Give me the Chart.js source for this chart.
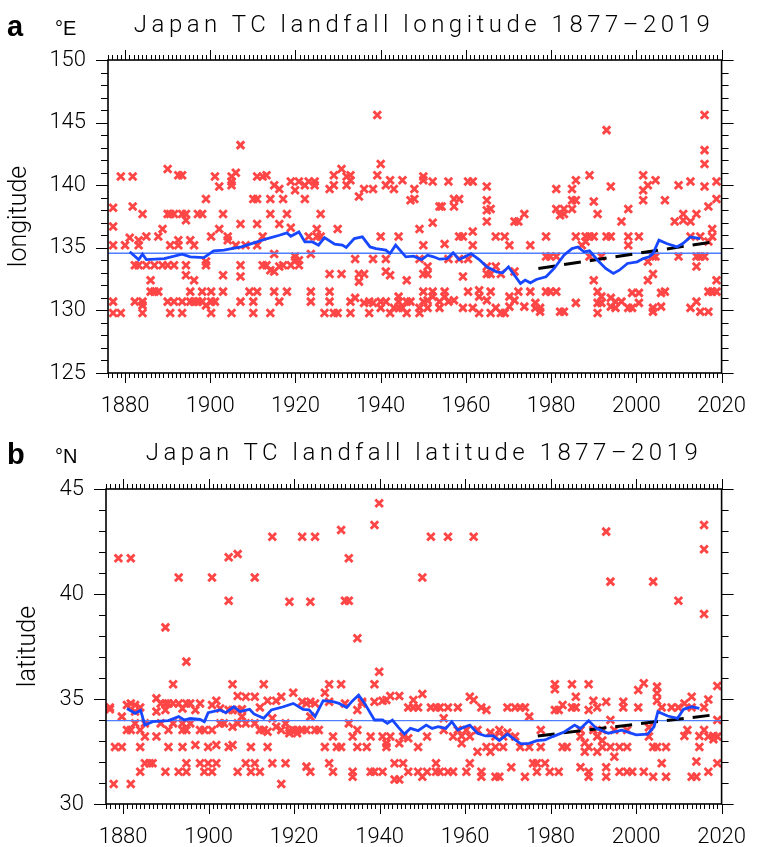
<!DOCTYPE html>
<html><head><meta charset="utf-8">
<script src="https://cdn.jsdelivr.net/npm/chart.js@4.4.1/dist/chart.umd.min.js"></script>
<style>
html,body{margin:0;padding:0;background:#fff;width:766px;height:847px;overflow:hidden;position:relative;}
canvas{display:block;}
.wrap{position:absolute;left:0;width:766px;}
.lbl{position:absolute;line-height:1;white-space:nowrap;color:#000;}
.letter{font-family:"Liberation Sans",Arial,sans-serif;font-weight:bold;font-size:29px;left:7px;}
.unit{font-family:"Liberation Sans",Arial,sans-serif;font-size:20px;left:55px;}
.title{font-family:Roboto,"Liberation Sans",sans-serif;font-weight:300;font-size:24px;left:0;width:848px;text-align:center;letter-spacing:4.5px;}
</style></head><body>
<div class="wrap" style="top:0;height:420px"><canvas id="cA" width="766" height="420"></canvas></div>
<div class="wrap" style="top:420px;height:427px"><canvas id="cB" width="766" height="427"></canvas></div>
<div class="lbl letter" style="top:12px">a</div>
<div class="lbl unit" style="top:18px">°E</div>
<div class="lbl title" style="top:12px">Japan TC landfall longitude 1877–2019</div>
<div class="lbl letter" style="top:440px">b</div>
<div class="lbl unit" style="top:446px">°N</div>
<div class="lbl title" style="top:440px">Japan TC landfall latitude 1877–2019</div>
<script>
// ---------------- DATA ----------------
const xTickLabels = [1880, 1900, 1920, 1940, 1960, 1980, 2000, 2020];
const lonTickLabels = [125, 130, 135, 140, 145, 150];
const latTickLabels = [30, 35, 40, 45];

// Panel a: landfall longitude (°E) by year
const lonYears = [1877.2,1879.0,1880.0,1881.1,1881.8,1882.3,1883.2,1884.1,1885.0,1886.0,1886.9,1887.8,1888.8,1890.0,1890.6,1891.5,1892.5,1893.4,1894.3,1895.3,1896.2,1897.1,1898.1,1899.0,1900.2,1901.1,1902.1,1903.0,1904.1,1905.0,1906.0,1907.1,1908.3,1909.2,1910.1,1911.0,1912.3,1913.2,1914.1,1915.0,1916.2,1917.1,1918.0,1918.9,1919.9,1920.8,1922.2,1923.1,1923.6,1924.5,1925.0,1925.9,1926.8,1928.0,1929.0,1929.9,1930.8,1932.0,1932.9,1934.0,1934.9,1936.1,1937.3,1938.2,1939.2,1940.0,1941.2,1942.2,1943.1,1944.2,1945.1,1946.1,1947.0,1947.9,1949.1,1950.0,1951.0,1952.2,1953.8,1954.3,1955.0,1955.9,1957.2,1958.4,1959.3,1960.5,1961.6,1963.1,1964.9,1965.8,1967.0,1968.2,1969.1,1970.2,1971.4,1972.3,1973.7,1975.1,1976.3,1977.4,1978.8,1979.8,1981.2,1982.1,1983.0,1984.9,1985.8,1987.2,1988.1,1989.0,1990.0,1990.9,1991.8,1993.0,1994.0,1995.1,1996.5,1998.1,1999.0,2000.6,2001.6,2002.7,2003.9,2004.5,2005.8,2006.7,2009.0,2009.9,2011.0,2012.7,2014.1,2015.0,2016.0,2016.9,2017.8,2018.8];
const lonGroups = [
[138.2,136.7,135.2,130.7,129.8],[140.7,129.8],[135.2],[135.8],[140.7,138.3],[133.6,130.7],[135.2,135.6,133.6],[137.7,130.7,130.4,129.8],
[135.9,133.6],[132.4,131.5],[133.6,131.5],[135.9,131.5],[136.5,133.6],[141.3,137.7,133.6,130.7],[137.7,135.2,129.8],[137.7,133.6,130.7],
[140.8,135.6,135.2],[140.8,137.7,130.7,129.8],[137.7,137.2,133.6,132.8],[135.6,131.5,130.7],[135.2,132.4,130.7],[137.7,130.7],[137.7,131.5,130.7],
[138.9,133.6,133.9,130.4],[135.9,131.5,130.7,129.8],[140.7,130.7],[139.9,136.5],[137.7,132.8,131.5],[135.9,135.6],[140.7,140.3,140.0,129.8],
[141.0,135.2],[143.2,136.9,133.6,132.7,130.7],[135.2],[131.5],[138.9,130.7,129.8],[140.7,138.9,136.9,135.2,131.5],[140.7,135.9,133.6],
[140.8,133.6],[138.9,137.7,133.2,129.8],[140.0,134.5,133.1,131.5],[139.7,136.9,133.5,130.7],[138.9,133.6],[137.7,131.5],[140.3,136.6,133.6],
[139.6,134.3,134.0],[140.3,134.0,133.6],[138.9,140.0],[140.3,135.9],[134.5,131.5,130.7],[140.3,140.0],[136.5,135.9],[137.7,135.9],[129.8],
[139.7,132.9,131.5,130.7],[140.8,140.0,129.8],[136.5,129.8],[141.3,132.9],[140.7,140.0],[140.8,140.4,130.7,129.8],[134.1,131.0],
[139.1,132.9,132.3],[139.7,132.9,130.6],[130.7,129.8],[139.7,134.1,130.6],[145.6,140.8],[141.7,135.9,130.7,130.2],[140.0,134.1,133.1,130.7],
[140.4,132.8,129.8],[139.7,130.2],[135.9,131.1,130.7,130.2],[140.4,130.2],[132.4,130.7,129.8],[138.8,130.7],[139.7,138.9],
[136.5,134.1,130.2,129.8],[140.7,140.4,135.2,132.9,131.5,130.7],[133.5,132.9,130.8,130.2],[140.3,137.0,131.5,131.1],[138.3,130.7,130.2],[138.3],
[135.3,131.5,131.1],[140.3,134.1,130.7],[138.3,138.9,130.8],[138.9,135.9,134.1],[135.9,132.7,130.2],[140.3,134.1,131.5],[140.3,136.3,135.2,130.2],
[131.6,131.1,129.8],[139.9,138.8,138.0,137.1,133.5,132.9,130.8],[138.1,132.9,131.5,129.8],[135.9,133.5,130.2],[132.9,129.8],[135.9,129.8],
[135.2,131.1,130.3],[137.1,133.1,130.8],[137.1,131.5],[137.7,130.3],[135.2,131.5],[130.6,130.2],[130.2,129.9],[135.9,134.3,131.5],[134.3,131.5],
[139.7,138.1,134.3,131.5],[137.6,129.9],[138.1,137.7,129.9],[139.7,138.8,138.1],[140.4,138.8,135.9,130.6],[135.2],[135.9,135.5],[140.8,135.9,134.3],
[138.7,135.9,132.4],[137.7,131.5,130.6,129.8],[134.3,131.1,130.6],[144.4,135.9],[139.9,135.9,131.0,130.3],[130.7,130.2],[137.1,130.7],
[138.1,135.9,135.2,130.2],[131.4,130.2],[135.9,131.4,130.6],[140.8,139.6,138.8],[140.0,133.9,132.4],[134.3,132.9,130.2,129.9],[140.4,134.3],
[131.4,130.3],[138.8,131.5],[137.1],[140.0,134.3],[137.7,137.2],[140.3,137.1,135.9,130.2],[137.7,134.3,133.5,130.7],[135.9,134.3,129.9],
[145.6,142.8,141.7,139.9,134.3],[138.3,135.5,131.5,129.9],[136.5,135.9,131.5],[140.3,138.9,132.4,131.5]
];
const lonRunYears = [1881.1,1883.2,1884.1,1885.0,1889.2,1893.4,1895.3,1898.5,1900.8,1903.2,1905.0,1907.3,1911.0,1913.4,1916.2,1918.0,1918.9,1920.8,1922.2,1924.0,1925.4,1926.8,1929.2,1931.0,1931.9,1933.8,1935.7,1937.5,1938.9,1941.2,1942.2,1943.5,1945.9,1947.7,1949.6,1951.0,1952.4,1953.8,1955.6,1957.0,1958.4,1959.8,1961.2,1963.1,1964.9,1967.2,1968.6,1970.0,1971.4,1972.8,1973.9,1975.1,1976.5,1978.8,1980.7,1983.0,1984.9,1986.3,1987.7,1989.0,1990.9,1992.8,1994.6,1996.0,1997.9,2000.2,2001.6,2003.0,2003.9,2005.3,2007.1,2009.5,2010.9,2012.7,2015.0];
const lonRunValues = [134.68,134.06,134.49,134.06,134.14,134.49,134.28,134.22,134.76,134.81,134.94,135.07,135.47,135.74,136.00,136.19,135.92,136.27,135.47,135.47,135.21,135.82,135.29,135.21,135.02,135.74,135.87,135.07,134.94,134.81,134.54,135.21,134.28,134.33,134.06,134.41,134.28,134.09,134.14,134.60,134.06,134.28,134.54,134.06,133.48,133.08,133.00,133.48,132.81,132.15,132.42,132.20,132.47,132.68,133.35,134.41,134.94,135.07,134.68,134.76,134.01,133.35,132.95,133.21,133.75,133.88,134.14,134.28,134.54,135.61,135.34,135.07,135.34,135.87,135.74];
const lonTrendYears = [1977, 2018];
const lonTrendValues = [133.35, 135.47];
const lonClimatology = 134.57;

// Panel b: landfall latitude (°N) by year
const latYears = [1876.9,1877.8,1878.1,1878.9,1879.7,1880.9,1881.8,1882.8,1884.0,1885.1,1886.2,1886.9,1887.8,1888.8,1889.9,1890.6,1891.7,1893.0,1893.9,1894.8,1895.7,1896.9,1898.0,1899.0,1899.9,1900.8,1901.8,1902.7,1903.6,1904.7,1905.6,1906.8,1907.8,1908.7,1909.9,1910.8,1912.0,1912.9,1913.8,1914.9,1915.8,1917.0,1918.0,1918.9,1919.8,1920.7,1921.9,1922.9,1923.8,1924.9,1925.8,1927.2,1928.2,1929.1,1930.0,1931.0,1931.9,1932.8,1933.7,1934.8,1935.9,1937.0,1937.9,1938.8,1939.9,1940.7,1941.6,1942.5,1943.5,1944.6,1945.5,1946.7,1947.9,1949.0,1950.0,1951.1,1952.0,1953.2,1954.1,1955.0,1956.0,1957.2,1958.3,1959.2,1960.3,1961.1,1962.0,1962.9,1963.8,1965.0,1965.9,1967.1,1968.0,1968.9,1969.9,1970.8,1971.7,1972.9,1974.0,1975.0,1975.9,1976.8,1977.7,1978.7,1979.8,1981.0,1981.9,1982.8,1983.8,1985.0,1985.9,1987.0,1988.0,1988.9,1990.0,1990.9,1992.1,1993.0,1994.0,1994.9,1996.1,1997.0,1997.9,1999.1,2000.5,2001.8,2003.0,2004.0,2004.9,2006.0,2007.0,2008.3,2009.9,2011.3,2012.0,2013.0,2014.1,2014.8,2015.9,2016.9,2018.1,2019.0];
const latGroups = [
[34.60,34.51],[30.95],[32.71],[41.70],[34.16,32.71],[34.71,33.52],[41.70,30.95,34.79,33.52],[34.71,34.40,33.84],[34.60,33.52,32.71,31.54],
[33.84,33.21,31.94],[31.94],[31.94],[35.03,34.40,33.21],[34.79,33.84],[38.41,34.79,34.48,31.54],[34.79,33.52,32.71],[35.70,34.79,33.84],
[40.79,34.79,31.54],[34.55,33.84,33.52,32.71],[36.78,34.79,33.52,31.94,31.54],[34.79,33.84],[34.48,32.81],[34.79,33.52,31.94],[33.52,31.54],
[32.71,31.94],[40.79,34.71,33.52,31.54],[34.92,32.81,31.94],[34.55,33.84],[33.84],[41.75,39.68,34.48,32.71],[35.70,34.48,33.68,32.81],
[41.90,35.14,34.48,33.84,31.54],[34.51,34.16],[35.11,33.84,31.94],[32.71,31.54],[40.79,35.11,33.84,31.94],[34.60,33.52,31.54],[35.70,33.52],
[34.92,33.44,32.71],[42.73,34.08,31.94],[34.92,33.68],[35.11,33.52,30.95],[33.84,31.94],[39.63,33.37,33.49],[35.30,33.52],[33.52,33.37],
[42.73,34.87,33.52],[34.79,33.52,31.78],[39.63,34.87,34.16,31.54],[42.73,34.79,33.52],[33.52],[35.30,32.71],[35.70,34.87,31.94],[33.21,31.54],
[32.71],[43.05,35.70,32.71],[39.68,34.79],[41.70,39.68,33.84],[33.21,31.54,31.30],[37.89,34.48,33.52,32.71],[34.87,34.79],[32.71],[33.21,31.54],
[43.29,35.70,34.87,31.54],[44.32,36.30],[34.92,33.21,31.54],[34.95,32.89,32.71],[35.14,33.21],[31.94,31.17],[35.14,32.89,31.17],[33.21,31.94],
[34.60,33.13,31.54],[34.95,34.60],[34.60,32.71,31.54],[40.79,35.24,31.30],[33.21,31.54],[42.73,34.60],[34.60,31.94,31.54],[34.60,31.54],
[34.08,33.52],[42.73,34.60,31.54],[33.21,31.54],[34.60,33.52],[33.24,32.89],[33.52,31.54],[35.11,33.21,31.94],[42.73,34.95],[33.52,32.49],
[34.60,31.54,31.30],[34.48,32.71],[33.40,32.49],[33.21,32.71,31.30],[33.52,31.30],[33.21,32.71],[34.60,33.40],[31.75],[34.60,33.21],
[34.60,32.71],[34.60,31.30],[34.16,32.71],[31.94],[31.94,31.54],[33.52,32.71],[31.94],[31.54],[35.70,35.46,34.48],[34.48,31.54],[34.71,32.71],
[32.71],[35.70,34.60],[35.11,34.60],[33.52,33.21,31.75],[32.92,32.49],[35.70,34.48,32.71,31.54,31.30],[34.92,33.52],[34.60,33.21,32.49],
[33.52,33.02,32.71],[42.97,34.87,31.75,31.30],[40.59,34.00,32.71],[33.52,32.25],[32.71,31.54],[34.87,34.60],[33.52,32.71,31.54],[31.54],
[35.43,34.60],[35.75,31.54],[33.65,33.21],[40.59,32.71,31.30],[35.59,35.27,34.92,32.71],[34.60,31.94],[32.71,31.30],[34.60],[39.68,34.60],
[34.79,33.24],[33.52],[35.11,34.60,31.30],[32.02,31.30],[33.24,32.71],[43.29,42.13,39.05,34.60,33.52],[34.98,33.21,31.54],[33.24,33.08],
[35.62,34.00,33.21,31.94]
];
const latRunYears = [1880.9,1882.8,1884.1,1885.1,1886.9,1890.6,1893.0,1894.3,1895.7,1898.0,1899.0,1899.9,1902.7,1904.0,1905.9,1907.3,1909.6,1910.6,1912.9,1914.7,1917.5,1919.8,1922.1,1923.5,1924.9,1926.8,1929.1,1930.5,1932.3,1933.7,1935.1,1936.5,1938.8,1940.7,1941.8,1943.0,1944.4,1945.8,1947.2,1949.0,1950.9,1952.3,1953.7,1955.5,1956.9,1958.3,1959.7,1961.1,1962.9,1964.8,1966.6,1968.0,1969.9,1971.7,1973.1,1975.0,1976.8,1978.7,1980.5,1983.3,1985.6,1987.0,1988.9,1990.7,1993.5,1996.7,2000.0,2002.7,2004.2,2005.1,2007.4,2009.7,2011.1,2013.0,2014.8];
const latRunValues = [34.55,34.32,34.46,33.76,33.92,33.97,34.16,34.00,34.08,34.03,33.92,34.35,34.48,34.35,34.63,34.40,34.51,34.29,34.08,34.48,34.63,34.79,34.51,34.48,34.16,34.92,34.87,34.79,34.60,34.92,35.19,34.79,34.00,34.00,33.84,34.00,33.65,33.33,33.60,33.49,33.76,33.60,33.68,33.60,33.92,33.52,33.65,33.76,33.37,33.24,33.24,33.02,33.33,33.05,32.86,32.89,33.02,33.05,33.21,33.44,33.76,33.60,33.97,33.60,33.37,33.52,33.29,33.33,33.68,34.40,34.19,34.08,34.51,34.63,34.55];
const latTrendYears = [1977, 2018];
const latTrendValues = [33.24, 34.24];
const latClimatology = 33.97;

const yearRange = [1876, 2020];

// ---------------- DRAWING ----------------
function scatterPoints(years, groups) {
  const pts = [];
  years.forEach((yr, i) => groups[i].forEach(v => pts.push({ x: yr, y: v })));
  return pts;
}
function pairs(xs, ys) { return xs.map((x, i) => ({ x: x, y: ys[i] })); }

const frameTicks = {
  id: 'frameTicks',
  afterDraw(chart) {
    const ctx = chart.ctx;
    const { left, right, top, bottom } = chart.chartArea;
    const xs = chart.scales.x, ys = chart.scales.y;
    ctx.save();
    ctx.strokeStyle = '#000';
    ctx.lineWidth = 1;
    ctx.beginPath();
    for (let yr = Math.ceil(xs.min); yr <= xs.max; yr++) {
      const px = Math.round(xs.getPixelForValue(yr)) + 0.5;
      const L = yr % 20 === 0 ? 10 : 5;
      ctx.moveTo(px, top); ctx.lineTo(px, top - L);
      ctx.moveTo(px, bottom); ctx.lineTo(px, bottom + L);
    }
    for (let v = Math.ceil(ys.min); v <= ys.max; v++) {
      const py = Math.round(ys.getPixelForValue(v)) + 0.5;
      const L = v % 5 === 0 ? 12 : 7;
      ctx.moveTo(left, py); ctx.lineTo(left - L, py);
      ctx.moveTo(right, py); ctx.lineTo(right + L, py);
    }
    ctx.stroke();
    ctx.lineWidth = 1.6;
    ctx.strokeRect(left, top, right - left, bottom - top);
    ctx.restore();
  }
};

const tickFont = { family: 'Roboto, "Liberation Sans", sans-serif', size: 22, weight: 300 };

function makeChart(id, c) {
  return new Chart(document.getElementById(id), {
    type: 'scatter',
    data: {
      datasets: [
        { type: 'line', data: pairs(c.runYears, c.runValues), borderColor: '#1747ff', borderWidth: 2.8,
          pointRadius: 0, tension: 0, fill: false, order: 1 },
        { type: 'line', data: pairs(c.trendYears, c.trendValues), borderColor: '#000', borderWidth: 3,
          borderDash: [17, 9], pointRadius: 0, fill: false, order: 2 },
        { type: 'line', data: pairs(yearRange, [c.clim, c.clim]), borderColor: '#4f7fff', borderWidth: 1.4,
          pointRadius: 0, fill: false, order: 3 },
        { type: 'scatter', data: scatterPoints(c.years, c.groups), pointStyle: 'crossRot', radius: 5.3,
          borderWidth: 2.9, borderColor: '#ff4646', backgroundColor: '#ff4646', order: 4 }
      ]
    },
    options: {
      responsive: false, animation: false, devicePixelRatio: 1,
      layout: { padding: { left: 0, right: 30, top: c.padTop, bottom: 0 } },
      plugins: { legend: { display: false }, tooltip: { enabled: false }, title: { display: false } },
      scales: {
        x: {
          type: 'linear', min: yearRange[0], max: yearRange[1],
          afterBuildTicks: s => { s.ticks = xTickLabels.map(v => ({ value: v })); },
          afterFit: s => { s.height = c.xH; },
          grid: { display: false, drawTicks: false }, border: { display: false },
          ticks: { padding: 20, font: tickFont, color: '#000', maxRotation: 0, autoSkip: false, callback: v => String(v) }
        },
        y: {
          type: 'linear', min: c.yMin, max: c.yMax,
          afterBuildTicks: s => { s.ticks = c.yTicks.map(v => ({ value: v })); },
          afterFit: s => { s.width = c.yW; },
          grid: { display: false, drawTicks: false }, border: { display: false },
          ticks: { padding: 22, font: tickFont, color: '#000', autoSkip: false, callback: v => String(v) },
          title: { display: true, text: c.yTitle, color: '#000', padding: { top: c.tPad, bottom: 0 },
            font: { family: 'Roboto, "Liberation Sans", sans-serif', size: 25, weight: 300 } }
        }
      }
    },
    plugins: [frameTicks]
  });
}

makeChart('cA', {
  years: lonYears, groups: lonGroups, runYears: lonRunYears, runValues: lonRunValues,
  trendYears: lonTrendYears, trendValues: lonTrendValues, clim: lonClimatology,
  yMin: 125, yMax: 150, yTicks: lonTickLabels, yTitle: 'longitude',
  padTop: 60, xH: 47, yW: 108, tPad: 5
});
makeChart('cB', {
  years: latYears, groups: latGroups, runYears: latRunYears, runValues: latRunValues,
  trendYears: latTrendYears, trendValues: latTrendValues, clim: latClimatology,
  yMin: 30, yMax: 45, yTicks: latTickLabels, yTitle: 'latitude',
  padTop: 69, xH: 43, yW: 106, tPad: 14
});
</script>
</body></html>
